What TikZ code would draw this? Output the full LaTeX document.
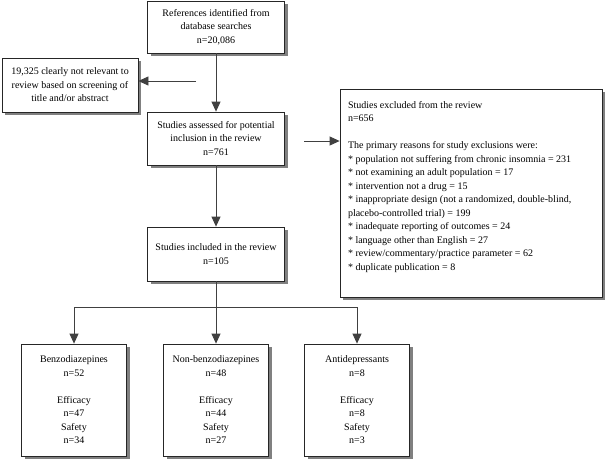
\documentclass[tikz,border=0pt]{standalone}
\usepackage{fontspec}
\setmainfont{Liberation Serif}
\usetikzlibrary{arrows.meta,shadows}
\definecolor{conncol}{RGB}{64,64,64}
\definecolor{shadowcol}{RGB}{128,128,128}
\tikzset{
  box/.style={draw=black!85, fill=white, line width=0.8pt, inner sep=0pt,
    align=center, font=\fontsize{10}{13.5}\selectfont,
    drop shadow={shadow xshift=3pt, shadow yshift=-3pt, fill=shadowcol, opacity=1}},
  conn/.style={draw=conncol, line width=0.8pt},
  arr/.style={conn, -{Triangle[length=10pt,width=9pt]}}
}
\begin{document}
\begin{tikzpicture}[x=1pt, y=-1pt]
\useasboundingbox (0,0) rectangle (609,460);
\fill[white] (0,0) rectangle (609,460);

\node[box, minimum width=137pt, minimum height=52pt] (refs) at (216,27)
  {References identified from\\database searches\\n=20,086};
\node[box, minimum width=136pt, minimum height=54pt] (notrel) at (70,85)
  {19,325 clearly not relevant to\\review based on screening of\\title and/or abstract};
\node[box, minimum width=137pt, minimum height=53pt] (assessed) at (216,138.5)
  {Studies assessed for potential\\inclusion in the review\\n=761};
\node[box, minimum width=137pt, minimum height=54pt] (included) at (216,254)
  {Studies included in the review\\n=105};
\node[box, minimum width=105pt, minimum height=112pt] (benzo) at (74,400)
  {Benzodiazepines\\n=52\\[13.5pt]Efficacy\\n=47\\Safety\\n=34};
\node[box, minimum width=105pt, minimum height=112pt] (nonbenzo) at (216,400)
  {Non-benzodiazepines\\n=48\\[13.5pt]Efficacy\\n=44\\Safety\\n=27};
\node[box, minimum width=105pt, minimum height=112pt] (antidep) at (357,400)
  {Antidepressants\\n=8\\[13.5pt]Efficacy\\n=8\\Safety\\n=3};
\node[box, inner xsep=8pt, inner ysep=0pt, align=left] (excl) at (471,193)
  {\parbox[c][208pt][t]{246pt}{\raggedright\fontsize{10}{13.5}\selectfont
   \vspace*{12pt}Studies excluded from the review\\
   n=656\\
   \mbox{}\\
   The primary reasons for study exclusions were:\\
   {*} population not suffering from chronic insomnia = 231\\
   {*} not examining an adult population = 17\\
   {*} intervention not a drug = 15\\
   {*} inappropriate design (not a randomized, double-blind,\\
   placebo-controlled trial) = 199\\
   {*} inadequate reporting of outcomes = 24\\
   {*} language other than English = 27\\
   {*} review/commentary/practice parameter = 62\\
   {*} duplicate publication = 8}};

\coordinate (lstart) at (196,81);
\coordinate (rstart) at (304,141);
\coordinate (split) at (216,307);

\draw[arr] (refs.south) -- (assessed.north);
\draw[arr] (lstart) -- (notrel.east |- lstart);
\draw[arr] (rstart) -- (excl.west |- rstart);
\draw[arr] (assessed.south) -- (included.north);
\draw[conn] (included.south) -- (split);
\draw[arr] (split) -| (benzo.north);
\draw[arr] (split) -- (nonbenzo.north);
\draw[arr] (split) -| (antidep.north);
\end{tikzpicture}
\end{document}
